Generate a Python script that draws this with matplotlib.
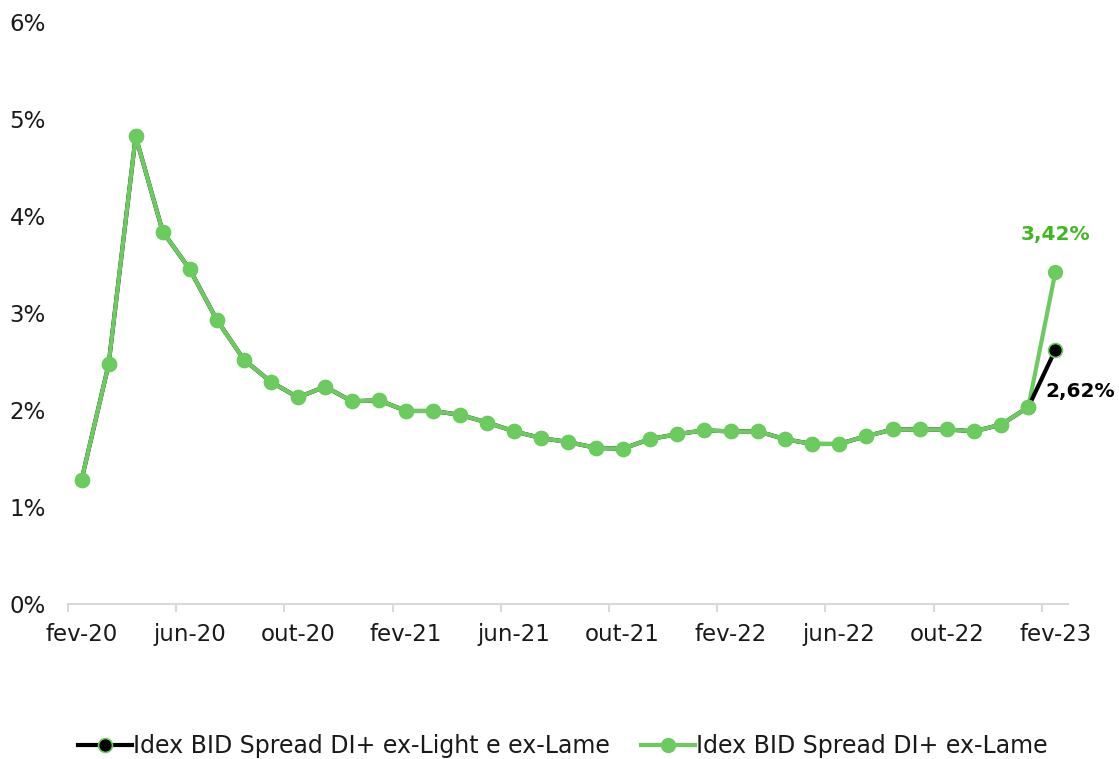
import matplotlib.pyplot as plt
import numpy as np

# monthly values, fev-20 .. fev-23 (%)
spread_ex_lame = [1.28, 2.47, 4.82, 3.84, 3.45, 2.93, 2.52, 2.29, 2.13, 2.24,
                  2.09, 2.10, 1.99, 1.99, 1.95, 1.87, 1.78, 1.71, 1.67, 1.61,
                  1.60, 1.70, 1.75, 1.79, 1.78, 1.78, 1.70, 1.65, 1.65, 1.73,
                  1.80, 1.80, 1.80, 1.78, 1.85, 2.03, 3.42]
spread_ex_light = spread_ex_lame[:-1] + [2.62]

tick_labels = ['fev-20', 'jun-20', 'out-20', 'fev-21', 'jun-21', 'out-21',
               'fev-22', 'jun-22', 'out-22', 'fev-23']

green = '#6CCB5F'
label_green = '#3DB81F'

plt.rcParams['font.family'] = ['DejaVu Sans']

fig = plt.figure(figsize=(11.19, 7.59), dpi=100)
ax = fig.add_axes([0.0608, 0.2042, 0.8932, 0.7668])

x = np.arange(len(spread_ex_lame)) + 0.5

ax.plot(x, spread_ex_light, color='black', lw=3, marker='o', ms=10,
        markerfacecolor='black', markeredgecolor=green, markeredgewidth=1.2,
        label='Idex BID Spread DI+ ex-Light e ex-Lame', zorder=2)
ax.plot(x[:-1], spread_ex_lame[:-1], color=green, lw=3, marker='o', ms=10,
        zorder=3)
ax.plot(x[-2:], spread_ex_lame[-2:], color=green, lw=3, marker='o', ms=10,
        label='Idex BID Spread DI+ ex-Lame', zorder=1)

ax.annotate(f"{spread_ex_lame[-1]:.2f}%".replace('.', ','), (x[-1], spread_ex_lame[-1]),
            xytext=(0, 27), textcoords='offset points', ha='center', va='center',
            color=label_green, fontsize=14.5, fontweight='bold')
ax.annotate(f"{spread_ex_light[-1]:.2f}%".replace('.', ','), (x[-1], spread_ex_light[-1]),
            xytext=(-7, -30), textcoords='offset points', ha='left', va='center',
            color='black', fontsize=14.5, fontweight='bold')

ax.set_xlim(0, 36.95)
ax.set_ylim(0, 6)
ax.set_xticks(np.arange(0, 37, 4))
ax.set_xticklabels([])
ax.set_xticks(np.arange(0, 37, 4) + 0.5, minor=True)
ax.set_xticklabels(tick_labels, minor=True)
ax.set_yticks(range(0, 7))
ax.set_yticklabels([f'{v}%' for v in range(0, 7)])

for s in ['top', 'right', 'left']:
    ax.spines[s].set_visible(False)
ax.spines['bottom'].set_color('#D9D9D9')
ax.spines['bottom'].set_linewidth(1.5)
ax.tick_params(axis='x', which='major', colors='#D9D9D9', length=6, width=1.5)
ax.tick_params(axis='x', which='minor', length=0, pad=14, labelcolor='#1a1a1a',
               labelsize=16.5)
ax.tick_params(axis='y', length=0, pad=16, labelcolor='#1a1a1a', labelsize=16.5)

leg = fig.legend(loc='center', bbox_to_anchor=(0.503, 0.017), ncol=2, frameon=False,
                 prop={'size': 17}, handlelength=2.3, handletextpad=0.05,
                 columnspacing=1.3)
for t in leg.get_texts():
    t.set_color('#1a1a1a')

fig.savefig('out.png', dpi=100)
